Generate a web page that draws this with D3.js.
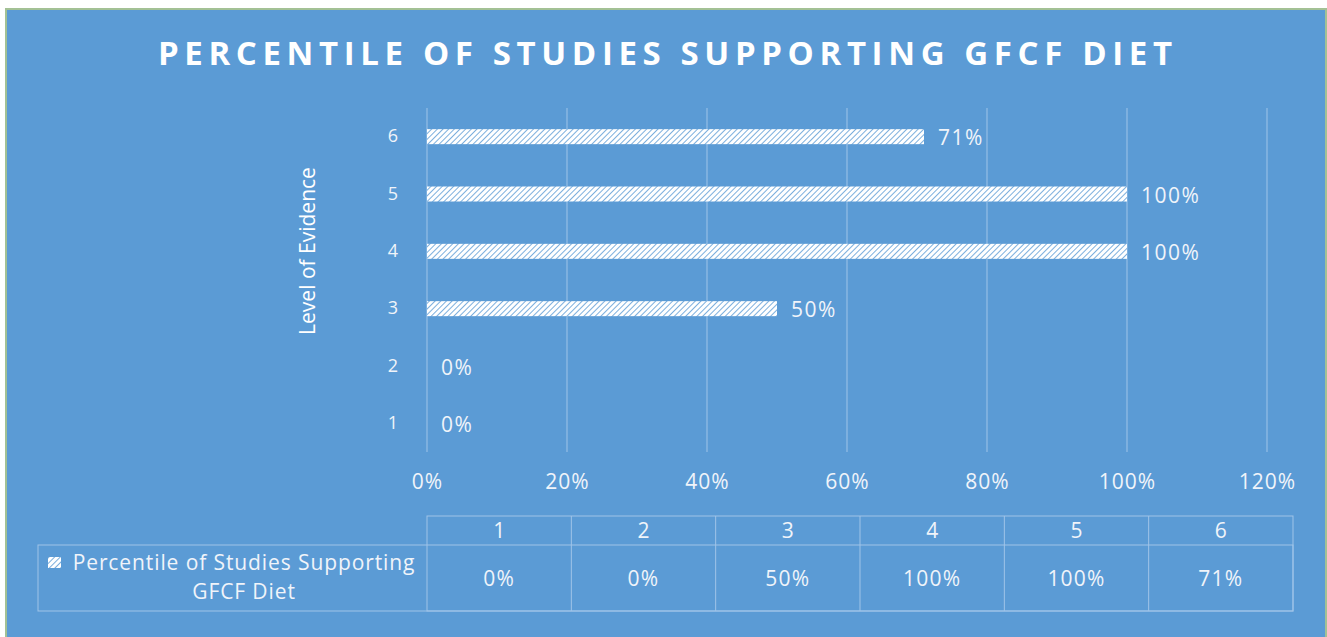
<!DOCTYPE html>
<html>
<head>
<meta charset="utf-8">
<script src="https://cdn.jsdelivr.net/npm/d3@7"></script>
<style>
  body { margin: 0; background: #ffffff; }
  text { font-family: "Open Sans", sans-serif; }
</style>
</head>
<body>
<svg id="chart"></svg>
<script>
// chart data
const levels = ['1', '2', '3', '4', '5', '6'];
const percents = [0, 0, 50, 100, 100, 71];
const xTicks = [0, 20, 40, 60, 80, 100, 120];
const seriesName = 'Percentile of Studies Supporting GFCF Diet';
const chartTitle = 'PERCENTILE OF STUDIES SUPPORTING GFCF DIET';
const yTitle = 'Level of Evidence';

let w = 1327;
let h = 637;

let svg = d3.select('#chart')
    .attr('width', w)
    .attr('height', h);

let bg = '#5b9bd5';
let lineCol = '#a0c4e8';
let txtCol = '#f0f4fa';

// hatch pattern for bars
let defs = svg.append('defs');
let pat = defs.append('pattern')
    .attr('id', 'hatch')
    .attr('patternUnits', 'userSpaceOnUse')
    .attr('width', 4)
    .attr('height', 4)
    .attr('patternTransform', 'rotate(45)');
pat.append('rect').attr('width', 4).attr('height', 4).attr('fill', '#ffffff');
pat.append('line')
    .attr('x1', 0).attr('y1', 0).attr('x2', 0).attr('y2', 4)
    .attr('stroke', bg)
    .attr('stroke-width', 1.6);

// background frame
svg.append('rect')
    .attr('x', 6).attr('y', 9)
    .attr('width', w - 7).attr('height', h - 8)
    .attr('fill', bg)
    .attr('stroke', '#a3c195')
    .attr('stroke-width', 2);

// title
svg.append('text')
    .attr('x', 158)
    .attr('y', 65)
    .attr('textLength', 1014)
    .attr('lengthAdjust', 'spacing')
    .attr('font-size', '33px')
    .attr('font-weight', 'bold')
    .attr('fill', '#ffffff')
    .style('white-space', 'pre')
    .text(chartTitle);

let xScale = d3.scaleLinear()
    .domain([0, 120])
    .range([427, 1267]);

let yScale = d3.scaleBand()
    .domain(levels.slice().reverse())
    .range([108, 452]);

let bw = yScale.bandwidth();
let barH = 15;

// gridlines
svg.append('g')
    .selectAll('line')
    .data(xTicks)
    .enter()
    .append('line')
    .attr('x1', d => xScale(d))
    .attr('x2', d => xScale(d))
    .attr('y1', 108)
    .attr('y2', 452)
    .attr('stroke', lineCol)
    .attr('stroke-width', 1);

// x axis labels
let xAxis = svg.append('g')
    .attr('transform', 'translate(0, 452)')
    .call(d3.axisBottom(xScale).tickValues(xTicks).tickSize(0).tickPadding(22).tickFormat(d => d + '%'));
xAxis.select('.domain').remove();
xAxis.selectAll('text')
    .attr('font-size', '21px')
    .attr('letter-spacing', '1px')
    .attr('fill', txtCol)
    .style('font-family', '"Open Sans", sans-serif');

// y axis labels
let yAxis = svg.append('g')
    .attr('transform', 'translate(427, 0)')
    .call(d3.axisLeft(yScale).tickSize(0).tickPadding(29));
yAxis.select('.domain').remove();
yAxis.selectAll('text')
    .attr('font-size', '18px')
    .attr('fill', txtCol)
    .style('font-family', '"Open Sans", sans-serif');

// y axis title
svg.append('text')
    .attr('transform', 'translate(315, 251) rotate(-90)')
    .attr('text-anchor', 'middle')
    .attr('font-size', '21px')
    .attr('fill', '#ffffff')
    .text(yTitle);

let rows = levels.map((l, i) => ({ level: l, value: percents[i] }));

// bars
svg.append('g')
    .selectAll('rect')
    .data(rows)
    .enter()
    .append('rect')
    .attr('x', xScale(0))
    .attr('y', d => yScale(d.level) + (bw - barH) / 2)
    .attr('width', d => xScale(d.value) - xScale(0))
    .attr('height', barH)
    .attr('fill', 'url(#hatch)');

// data labels
svg.append('g')
    .selectAll('text')
    .data(rows)
    .enter()
    .append('text')
    .attr('x', d => xScale(d.value) + 14)
    .attr('y', d => yScale(d.level) + bw / 2)
    .attr('dy', '0.42em')
    .attr('font-size', '21px')
    .attr('letter-spacing', '1.5px')
    .attr('fill', txtCol)
    .text(d => d.value + '%');

// data table below
let tLeft = 427, tRight = 1293, legLeft = 38;
let r0 = 516, r1 = 545, r2 = 611;
let colX = d3.scaleBand().domain(levels).range([tLeft, tRight]);

let tbl = svg.append('g')
    .attr('stroke', lineCol)
    .attr('stroke-width', 1)
    .attr('fill', 'none');

tbl.append('rect').attr('x', tLeft).attr('y', r0).attr('width', tRight - tLeft).attr('height', r2 - r0);
tbl.append('rect').attr('x', legLeft).attr('y', r1).attr('width', tRight - legLeft).attr('height', r2 - r1);
tbl.selectAll('.col')
    .data(levels.slice(1))
    .enter()
    .append('line')
    .attr('x1', d => colX(d))
    .attr('x2', d => colX(d))
    .attr('y1', r0)
    .attr('y2', r2);

svg.append('g')
    .selectAll('text')
    .data(levels)
    .enter()
    .append('text')
    .attr('x', d => colX(d) + colX.bandwidth() / 2)
    .attr('y', (r0 + r1) / 2)
    .attr('dy', '0.38em')
    .attr('text-anchor', 'middle')
    .attr('font-size', '21px')
    .attr('fill', txtCol)
    .text(d => d);

svg.append('g')
    .selectAll('text')
    .data(rows)
    .enter()
    .append('text')
    .attr('x', d => colX(d.level) + colX.bandwidth() / 2)
    .attr('y', (r1 + r2) / 2)
    .attr('dy', '0.4em')
    .attr('text-anchor', 'middle')
    .attr('font-size', '21px')
    .attr('letter-spacing', '1.2px')
    .attr('fill', txtCol)
    .text(d => d.value + '%');

// legend cell
let words = seriesName.split(' ');
let line1 = words.slice(0, 4).join(' ');
let line2 = words.slice(4).join(' ');
let legCx = 244;

svg.append('rect')
    .attr('x', 48)
    .attr('y', 557)
    .attr('width', 13)
    .attr('height', 11)
    .attr('fill', 'url(#hatch)');

svg.append('text')
    .attr('x', legCx)
    .attr('y', 570)
    .attr('text-anchor', 'middle')
    .attr('font-size', '21px')
    .attr('letter-spacing', '0.9px')
    .attr('fill', txtCol)
    .text(line1);

svg.append('text')
    .attr('x', legCx)
    .attr('y', 599)
    .attr('text-anchor', 'middle')
    .attr('font-size', '21px')
    .attr('letter-spacing', '0.9px')
    .attr('fill', txtCol)
    .text(line2);
</script>
</body>
</html>
